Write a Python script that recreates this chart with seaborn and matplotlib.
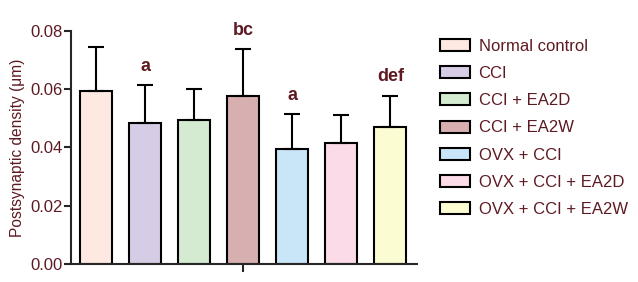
import matplotlib
matplotlib.use("Agg")
from matplotlib import pyplot as plt
import seaborn as sns
import numpy as np
import pandas as pd

groups = ["Normal control", "CCI", "CCI + EA2D", "CCI + EA2W",
          "OVX + CCI", "OVX + CCI + EA2D", "OVX + CCI + EA2W"]
density = [0.0594, 0.0484, 0.0493, 0.0577, 0.0395, 0.0417, 0.0471]
sd = [0.0151, 0.0131, 0.0107, 0.0161, 0.0120, 0.0096, 0.0107]
letters = ["", "a", "", "bc", "a", "", "def"]
colors = ["#fde9e2", "#d7cce6", "#d4ebd1", "#d8afb0", "#c8e6f8", "#fbdbe8", "#fcfcd3"]

sns.set_style("ticks")
plt.rcParams['font.family'] = ['Liberation Sans', 'DejaVu Sans']
maroon = "#5e1a22"

df = pd.DataFrame({"group": groups, "density": density})

fig = plt.figure(figsize=(6.38, 2.82), dpi=100)
ax = fig.add_axes([0.111, 0.064, 0.543, 0.826])

sns.barplot(data=df, x="group", y="density", hue="group", palette=colors,
            order=groups, hue_order=groups, dodge=False, width=0.66,
            saturation=1, edgecolor="black", linewidth=1.5, legend=True, ax=ax)

x = np.arange(len(groups))
ax.errorbar(x, density, yerr=[np.zeros(len(sd)), sd], fmt="none",
            ecolor="black", elinewidth=1.5, capsize=6, capthick=1.5, zorder=1)

for xi, d, s, t in zip(x, density, sd, letters):
    if t:
        ax.text(xi, d + s + 0.0035, t, ha="center", va="bottom",
                fontsize=13, fontweight="bold", color=maroon)

ax.set_ylim(0, 0.08)
ax.set_xlim(-0.52, 6.55)
ax.set_yticks([0.0, 0.02, 0.04, 0.06, 0.08])
ax.set_yticklabels(["0.00", "0.02", "0.04", "0.06", "0.08"])
ax.set_xticks([3])
ax.set_xticklabels([""])
ax.set_xlabel("")
ax.set_ylabel("Postsynaptic density (μm)", fontsize=11.2, color=maroon, labelpad=4)
ax.tick_params(axis="y", labelsize=12, labelcolor=maroon, width=1.5, length=5, pad=1)
ax.tick_params(axis="x", width=1.5, length=6)
for side in ["left", "bottom"]:
    ax.spines[side].set_linewidth(1.5)
sns.despine(ax=ax)

handles, labels = ax.get_legend_handles_labels()
ax.legend_.remove()
leg = fig.legend(handles, labels, loc="upper left", bbox_to_anchor=(0.69, 0.862),
                 frameon=False, fontsize=12, handlelength=1.8, handleheight=0.72,
                 handletextpad=0.5, labelspacing=0.73, borderpad=0, borderaxespad=0)
for txt in leg.get_texts():
    txt.set_color(maroon)
for h in leg.legend_handles:
    h.set_edgecolor("black")
    h.set_linewidth(1.5)

fig.savefig("out.png", dpi=100)
